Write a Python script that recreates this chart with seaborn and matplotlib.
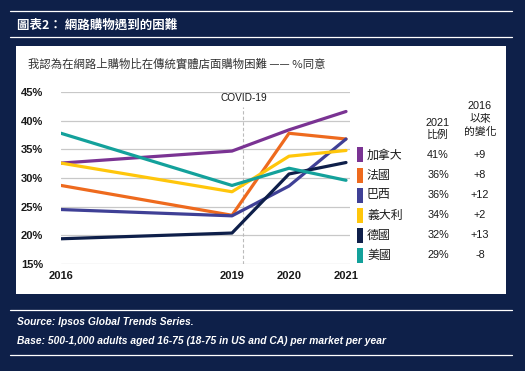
import pandas as pd
import seaborn as sns
import matplotlib.pyplot as plt
from matplotlib.patches import Rectangle
from matplotlib.lines import Line2D

# chart data
years = [2016, 2019, 2020, 2021]
countries = ["加拿大", "法國", "巴西", "義大利", "德國", "美國"]
canada = [32.6, 34.7, 38.4, 41.6]
france = [28.7, 23.5, 37.8, 36.8]
brazil = [24.5, 23.4, 28.6, 36.8]
italy = [32.6, 27.6, 33.8, 34.8]
germany = [19.4, 20.4, 30.7, 32.7]
usa = [37.8, 28.7, 31.7, 29.6]
share_2021 = ["41%", "36%", "36%", "34%", "32%", "29%"]
change_2016 = ["+9", "+8", "+12", "+2", "+13", "-8"]
y_ticks = [15, 20, 25, 30, 35, 40, 45]
colors = ["#7A3393", "#EE6A1E", "#3F4096", "#FFC60B", "#0E1F4A", "#13A19B"]

navy = "#0E2049"
latin = ["Liberation Sans", "DejaVu Sans"]
cjk = ["Noto Sans CJK TC", "DejaVu Sans"]

rows = []
for name, vals in zip(countries, [canada, france, brazil, italy, germany, usa]):
    for yr, v in zip(years, vals):
        rows.append({"year": yr, "value": v, "country": name})
df = pd.DataFrame(rows)

sns.set_theme(style="white")
plt.rcParams["font.family"] = ["Liberation Sans", "Noto Sans CJK TC", "DejaVu Sans"]

W, H = 525, 371
fig = plt.figure(figsize=(W / 100, H / 100), dpi=100, facecolor=navy)


def fx(x):
    return x / W


def fy(y):
    return 1 - y / H


# white panel and header/footer rules
fig.patches.append(Rectangle((fx(16), fy(294)), fx(506) - fx(16), fy(46) - fy(294),
                             transform=fig.transFigure, facecolor="white", edgecolor="none", zorder=-5))
for yy in [11, 37, 310, 355]:
    fig.lines.append(Line2D([fx(10), fx(512)], [fy(yy), fy(yy)], transform=fig.transFigure,
                            color="white", lw=0.9))

fig.text(fx(17), fy(25), "圖表2： 網路購物遇到的困難", color="white", fontsize=9,
         fontweight="bold", va="center", family=cjk)
fig.text(fx(17), fy(322), "Source: Ipsos Global Trends Series.", color="white", fontsize=7.4,
         style="italic", fontweight="bold", va="center", family=latin)
fig.text(fx(17), fy(341), "Base: 500-1,000 adults aged 16-75 (18-75 in US and CA) per market per year",
         color="white", fontsize=7.4, style="italic", fontweight="bold", va="center", family=latin)
fig.text(fx(28), fy(64), "我認為在網路上購物比在傳統實體店面購物困難 —— %同意", color="#333333",
         fontsize=8.2, va="center", family=cjk)

# main axes
x0, x1 = 2016, 2021.07
ax = fig.add_axes([fx(61), fy(264), fx(350) - fx(61), fy(92) - fy(264)])
ax.patch.set_alpha(0)
sns.lineplot(data=df, x="year", y="value", hue="country", hue_order=countries,
             palette=colors, linewidth=2.3, legend=False, ax=ax, zorder=3)

ax.set_xlim(x0, x1)
ax.set_ylim(15, 45)
ax.set_yticks(y_ticks)
ax.set_yticklabels([f"{t}%" for t in y_ticks])
ax.set_xticks(years)
ax.set_xticklabels([str(y) for y in years])
ax.grid(axis="y", color="#C8C8C8", lw=0.9)
ax.set_axisbelow(True)
for s in ax.spines.values():
    s.set_visible(False)
ax.tick_params(axis="y", length=0, pad=13, labelsize=8, labelcolor="#1a1a1a")
ax.tick_params(axis="x", length=0, pad=5, labelsize=8, labelcolor="#1a1a1a")
for lab in ax.get_xticklabels() + ax.get_yticklabels():
    lab.set_fontweight("bold")
ax.set_xlabel("")
ax.set_ylabel("")

# covid marker
ax.vlines(2019.2, 15, 42.4, colors="#BBBBBB", linestyles=(0, (3, 2)), lw=0.8, zorder=1)
ax.text(2019.2, 43.9, "COVID-19", ha="center", va="center", fontsize=7.3, color="#1a1a1a",
        family=latin)

# right-hand table
fig.text(fx(438), fy(129), "2021\n比例", ha="center", va="center", fontsize=7.8,
         linespacing=1.3, color="#1a1a1a", family=["Liberation Sans", "Noto Sans CJK TC"])
fig.text(fx(480), fy(119), "2016\n以來\n的變化", ha="center", va="center", fontsize=7.8,
         linespacing=1.3, color="#1a1a1a", family=["Liberation Sans", "Noto Sans CJK TC"])
for i, (name, sh, ch, c) in enumerate(zip(countries, share_2021, change_2016, colors)):
    yy = 155 + i * 20
    fig.patches.append(Rectangle((fx(357), fy(yy + 7.5)), fx(6), fy(0) - fy(15),
                                 transform=fig.transFigure, facecolor=c, edgecolor="none"))
    fig.text(fx(367), fy(yy), name, va="center", fontsize=8.6, color="#1a1a1a", family=cjk)
    fig.text(fx(438), fy(yy), sh, ha="center", va="center", fontsize=7.8, color="#1a1a1a",
             family=latin)
    fig.text(fx(480), fy(yy), ch, ha="center", va="center", fontsize=7.8, color="#1a1a1a",
             family=latin)

fig.savefig("out.png", dpi=100, facecolor=navy)
